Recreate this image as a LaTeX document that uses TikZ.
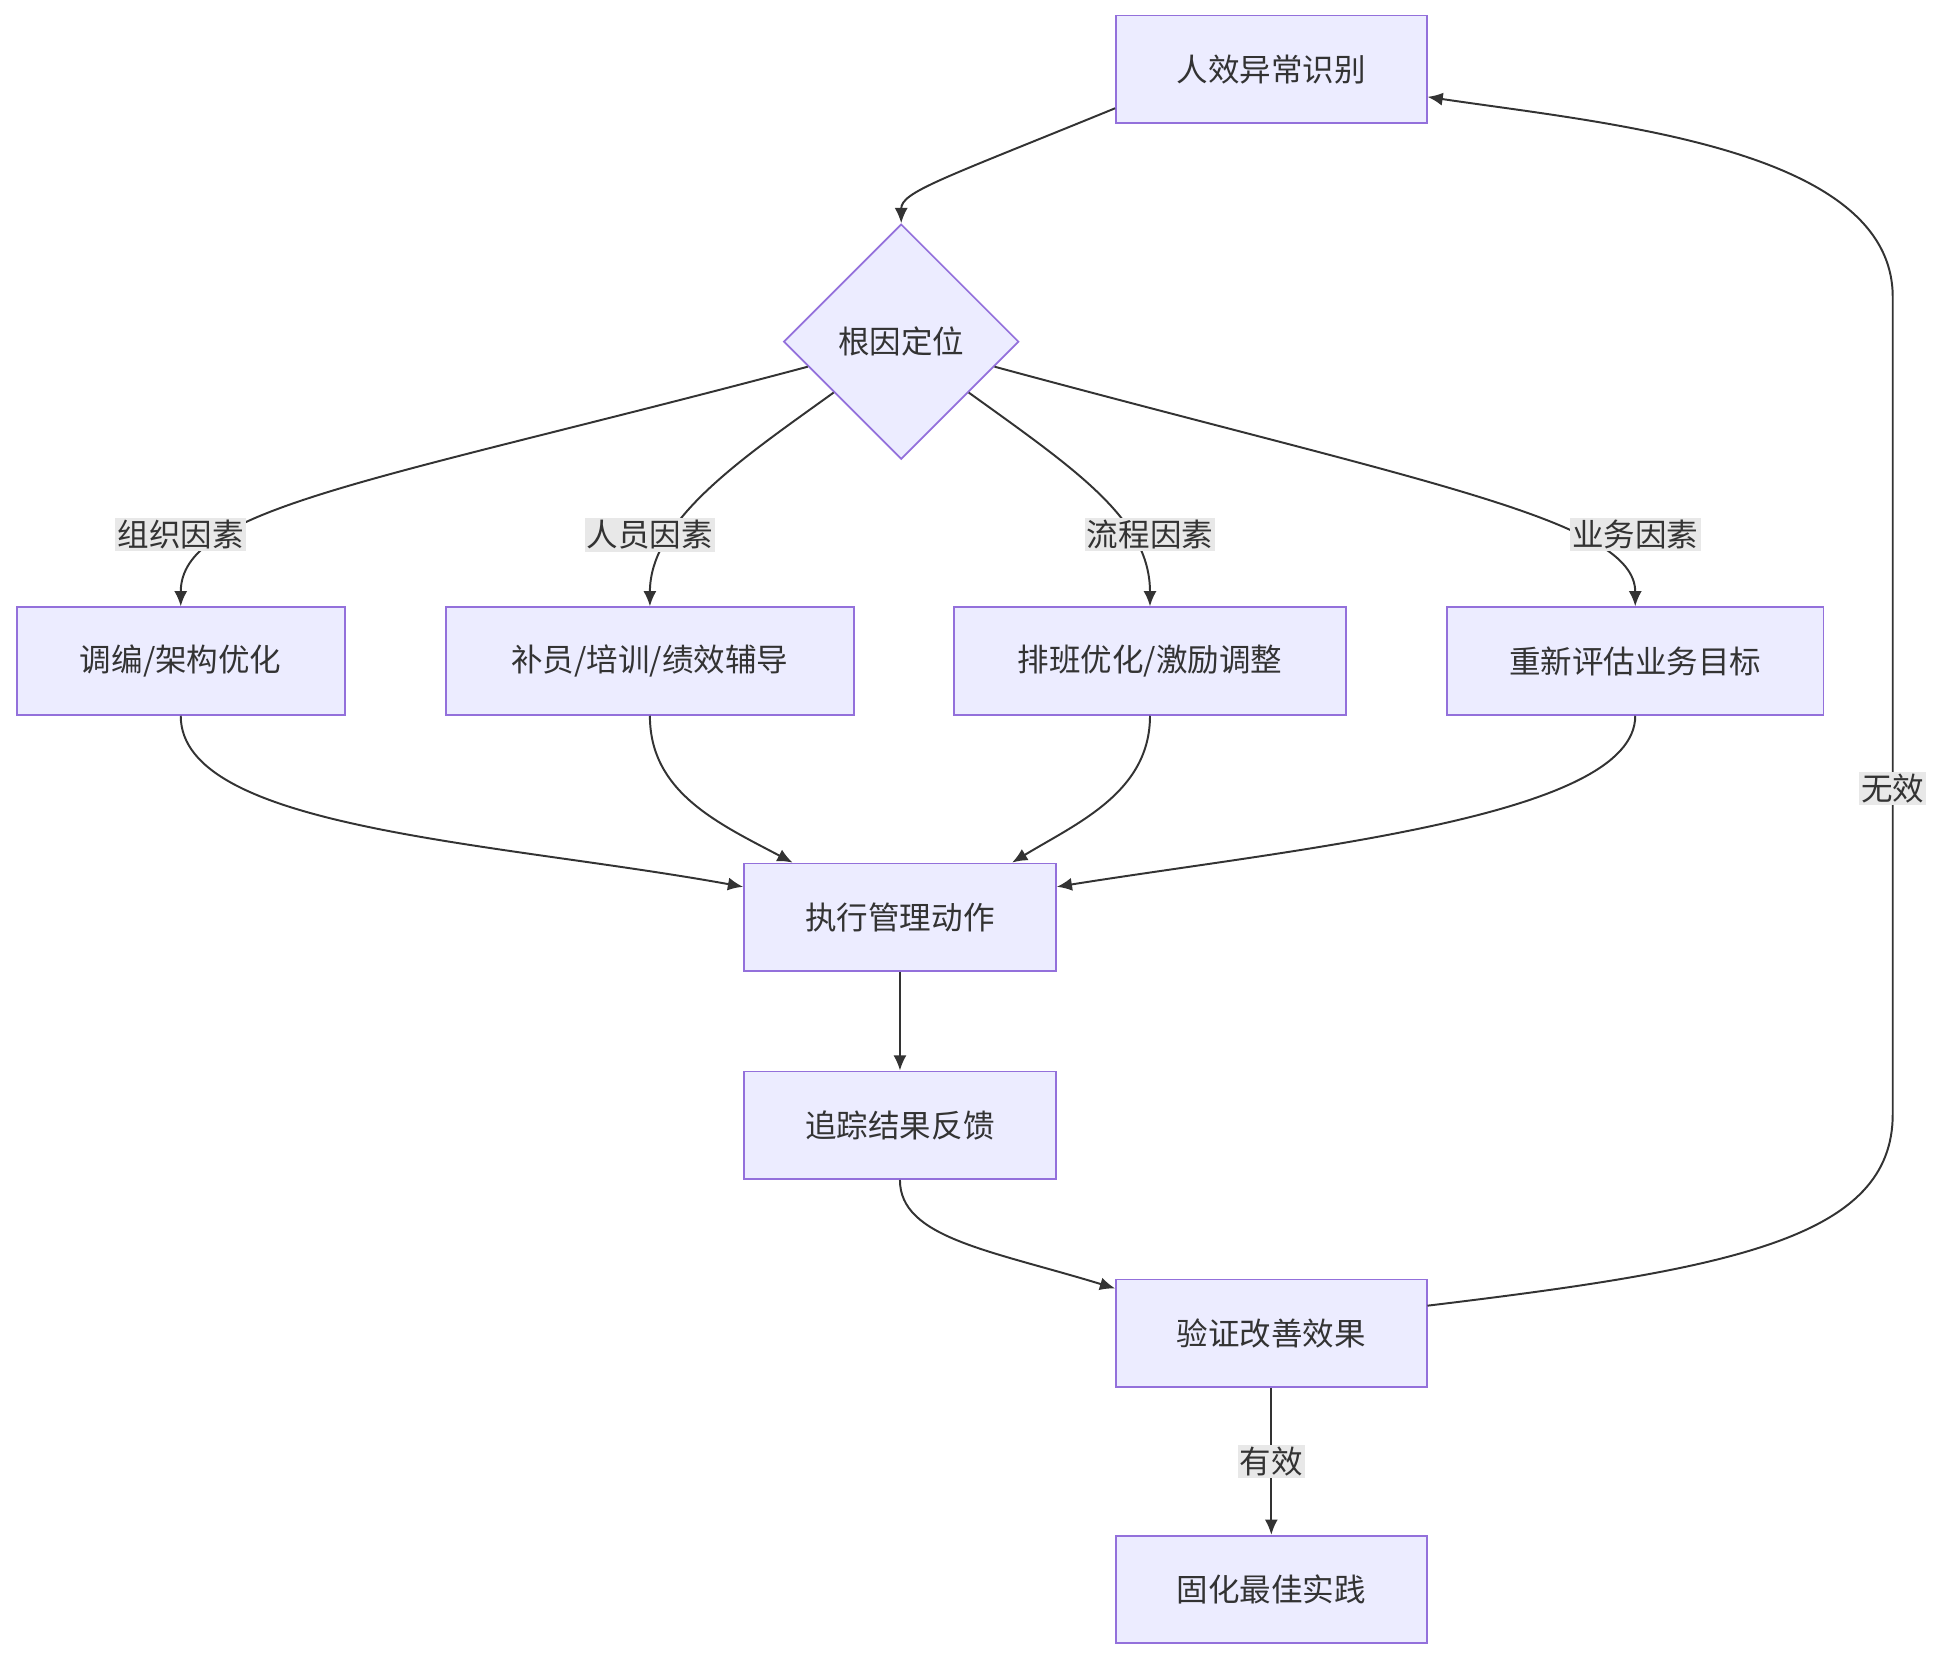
\documentclass[tikz,border=0pt]{standalone}
\usepackage{fontspec}
\setmainfont{Noto Sans CJK SC}
\usetikzlibrary{shapes.geometric,arrows.meta}
\definecolor{nfill}{HTML}{ECECFF}
\definecolor{nbord}{HTML}{9370DB}
\definecolor{tx}{HTML}{333333}
\definecolor{lbg}{HTML}{E8E8E8}
\begin{document}
\begin{tikzpicture}[x=0.02cm,y=-0.02cm,
 box/.style={draw=nbord,fill=nfill,line width=0.8pt,minimum height=1.74cm,text=tx,font=\fontsize{14.5pt}{16pt}\selectfont},
 dia/.style={diamond,draw=nbord,fill=nfill,line width=0.8pt,minimum width=3.8cm,minimum height=3.8cm,inner sep=0pt,text=tx,font=\fontsize{14.5pt}{16pt}\selectfont},
 lab/.style={fill=lbg,inner sep=1pt,text=tx,font=\fontsize{14.5pt}{16pt}\selectfont},
 edge/.style={draw=tx,line width=0.9pt,-{Latex[length=7pt,width=6pt]}}]
\useasboundingbox (0,0) rectangle (1568,1340);
\node[box,minimum width=5.02cm] (A) at (1027,56) {人效异常识别};
\node[dia] (D) at (728,276) {根因定位};
\node[box,minimum width=5.3cm] (B1) at (146,534) {调编/架构优化};
\node[box,minimum width=6.6cm] (B2) at (525,534) {补员/培训/绩效辅导};
\node[box,minimum width=6.34cm] (B3) at (929,534) {排班优化/激励调整};
\node[box,minimum width=6.08cm] (B4) at (1321,534) {重新评估业务目标};
\node[box,minimum width=5.04cm] (E) at (727,741) {执行管理动作};
\node[box,minimum width=5.04cm] (F) at (727,909) {追踪结果反馈};
\node[box,minimum width=5.02cm] (G) at (1027,1077) {验证改善效果};
\node[box,minimum width=5.02cm] (H) at (1027,1284) {固化最佳实践};

\draw[edge] (A.194) .. controls (760,145) and (728,155) .. (D.north);
\draw[edge] (D.195) .. controls (300,390) and (146,410) .. (B1.north);
\draw[edge] (D.217) .. controls (600,370) and (525,420) .. (B2.north);
\draw[edge] (D.323) .. controls (870,380) and (929,420) .. (B3.north);
\draw[edge] (D.345) .. controls (1150,390) and (1321,420) .. (B4.north);
\node[lab] (L1) at (146,432) {组织因素};
\node[lab] (L2) at (525,432) {人员因素};
\node[lab] (L3) at (929,432) {流程因素};
\node[lab] (L4) at (1321,432) {业务因素};

\draw[edge] (B1.south) .. controls (146,670) and (400,680) .. (E.169);
\draw[edge] (B2.south) .. controls (525,640) and (580,665) .. (E.153);
\draw[edge] (B3.south) .. controls (929,640) and (870,665) .. (E.26);
\draw[edge] (B4.south) .. controls (1321,660) and (1050,685) .. (E.11);
\draw[edge] (E) -- (F);
\draw[edge] (F.south) .. controls (727,1000) and (800,1010) .. (G.164);
\draw[edge] (G) -- (H) node[lab,midway] (L6) {有效};
\draw[edge] (G.10) .. controls (1400,1025) and (1529,1000) .. (1529,900) -- (1529,240) .. controls (1529,120) and (1300,100) .. (A.350);
\node[lab] (L5) at (1529,637) {无效};
\end{tikzpicture}
\end{document}
